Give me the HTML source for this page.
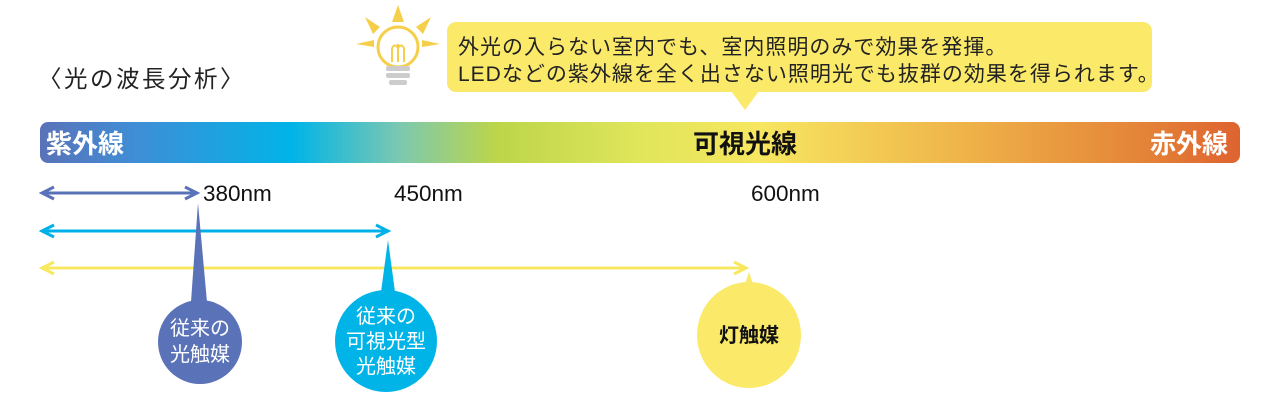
<!DOCTYPE html>
<html><head><meta charset="utf-8"><style>
body{margin:0;background:#fff;}
svg{display:block;font-family:"Liberation Sans","Noto Sans CJK JP",sans-serif;}
</style></head><body>
<svg width="1280" height="400" viewBox="0 0 1280 400" xmlns="http://www.w3.org/2000/svg">
<defs>
<linearGradient id="g" x1="40" x2="1240" y1="0" y2="0" gradientUnits="userSpaceOnUse">
<stop offset="0" stop-color="#5a72b8"/>
<stop offset="0.08" stop-color="#3f8ed6"/>
<stop offset="0.21" stop-color="#00b4e8"/>
<stop offset="0.3" stop-color="#7cc8b0"/>
<stop offset="0.38" stop-color="#bcd54a"/>
<stop offset="0.5" stop-color="#e0e65a"/>
<stop offset="0.6" stop-color="#f7e660"/>
<stop offset="0.78" stop-color="#eeb048"/>
<stop offset="0.92" stop-color="#e48338"/>
<stop offset="1" stop-color="#de6330"/>
</linearGradient>
</defs>
<text x="38" y="87" font-size="23.5" letter-spacing="2.5" fill="#222">〈光の波長分析〉</text>
<g fill="#f6cf4a">
<polygon points="398,5 404,22 392,22"/>
<polygon points="365,17 380,27 373,34"/>
<polygon points="431,17 416,27 423,34"/>
<polygon points="356,44 374,40 374,47"/>
<polygon points="440,44 422,40 422,47"/>
</g>
<circle cx="398" cy="47" r="20" fill="#fff" stroke="#f6cf4a" stroke-width="3"/>
<path d="M392,62 L392,48 M398,62 L398,44 M404,62 L404,48 M392,48 Q395,43 398,48 Q401,43 404,48" stroke="#f6cf4a" stroke-width="2" fill="none"/>
<rect x="386" y="66" width="24" height="5" rx="2" fill="#ccc"/>
<rect x="386" y="73" width="24" height="5" rx="2" fill="#ccc"/>
<rect x="389" y="80" width="18" height="5" rx="2" fill="#ccc"/>
<rect x="447" y="22" width="705" height="70" rx="9" fill="#fbe96a"/>
<polygon points="731,91 759,91 745,110" fill="#fbe96a"/>
<text x="458" y="54" font-size="21" letter-spacing="1" fill="#222">外光の入らない室内でも、室内照明のみで効果を発揮。</text>
<text x="458" y="81" font-size="21" letter-spacing="1" fill="#222">LEDなどの紫外線を全く出さない照明光でも抜群の効果を得られます。</text>
<rect x="40" y="122" width="1200" height="41" rx="8" fill="url(#g)"/>
<text x="46" y="153" font-size="26" fill="#fff" font-weight="bold">紫外線</text>
<text x="693" y="153" font-size="26" fill="#111" font-weight="bold">可視光線</text>
<text x="1150" y="153" font-size="26" fill="#fff" font-weight="bold">赤外線</text>
<g stroke-width="3" fill="none">
<line x1="42" y1="193" x2="197" y2="193" stroke="#5a72b8"/>
<polyline points="54,187 42,193 54,199" stroke="#5a72b8"/>
<polyline points="185,187 197,193 185,199" stroke="#5a72b8"/>
<line x1="42" y1="231" x2="388" y2="231" stroke="#00b0e8"/>
<polyline points="54,225 42,231 54,237" stroke="#00b0e8"/>
<polyline points="376,225 388,231 376,237" stroke="#00b0e8"/>
<line x1="42" y1="268" x2="746" y2="268" stroke="#f8e860"/>
<polyline points="54,262 42,268 54,274" stroke="#f8e860"/>
<polyline points="734,262 746,268 734,274" stroke="#f8e860"/>
</g>
<text x="203" y="201" font-size="22.5" fill="#111">380nm</text>
<text x="394" y="201" font-size="22.5" fill="#111">450nm</text>
<text x="751" y="201" font-size="22.5" fill="#111">600nm</text>
<polygon points="198,203 191,302 207,302" fill="#5a72b8"/>
<circle cx="200" cy="342" r="42" fill="#5a72b8"/>
<polygon points="388,240 381,292 395,292" fill="#00b4e8"/>
<circle cx="386" cy="341" r="51" fill="#00b4e8"/>
<polygon points="749,272 743,290 755,290" fill="#fbe96a"/>
<ellipse cx="749" cy="335" rx="52" ry="53" fill="#fbe96a"/>
<g font-size="20" fill="#fff" text-anchor="middle">
<text x="200" y="335">従来の</text>
<text x="200" y="361">光触媒</text>
<text x="386" y="323">従来の</text>
<text x="386" y="348">可視光型</text>
<text x="386" y="373">光触媒</text>
</g>
<text x="749" y="342" font-size="20" fill="#111" text-anchor="middle" font-weight="bold">灯触媒</text>
</svg>
</body></html>
